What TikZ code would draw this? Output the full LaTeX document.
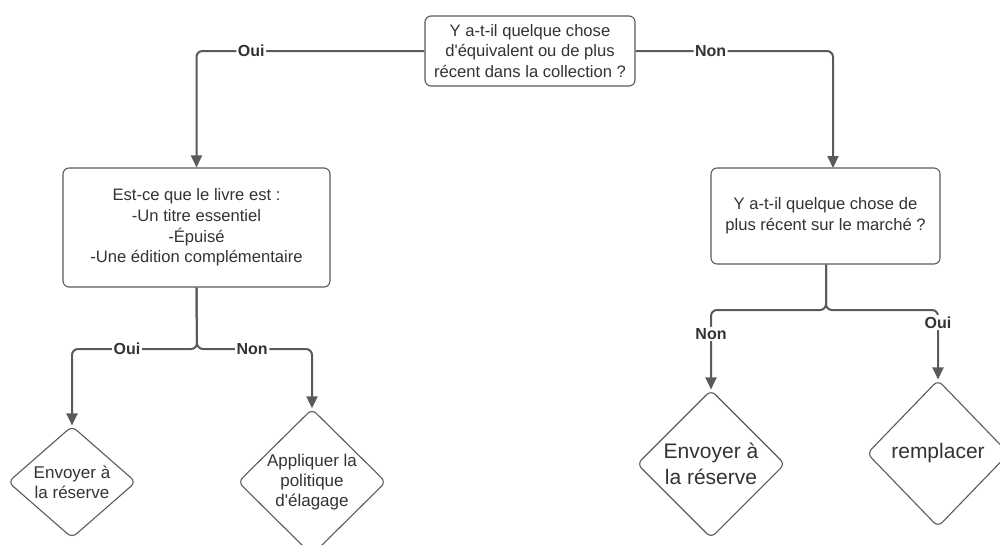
\documentclass[tikz,border=0pt]{standalone}
\usepackage{fontspec}
\setmainfont{Liberation Sans}[Ligatures=TeXOff]
\usetikzlibrary{shapes.geometric,arrows.meta}
\definecolor{linegray}{HTML}{5A5A5A}
\definecolor{txt}{HTML}{333333}
\begin{document}
\begin{tikzpicture}[x=1pt,y=-1pt,
  box/.style={draw=linegray, line width=1.1pt, rounded corners=6pt, fill=white, text=txt,
    align=center, inner sep=0pt, font=\fontsize{16.6}{20.6}\selectfont},
  dia/.style={diamond, draw=linegray, line width=1.1pt, rounded corners=6pt, fill=white, text=txt,
    align=center, inner sep=0pt},
  small/.style={font=\fontsize{17}{20.3}\selectfont},
  big/.style={font=\fontsize{21}{26}\selectfont},
  conn/.style={draw=linegray, line width=2pt, rounded corners=6pt, -{Triangle[length=12pt,width=11pt]}},
  lbl/.style={fill=white, text=txt, font=\bfseries\fontsize{16}{19}\selectfont, inner sep=1.5pt}
]
\useasboundingbox (0,0) rectangle (1000,544);

\node[box, minimum width=210pt, minimum height=70pt] (top) at (530,51)
  {Y a-t-il quelque chose\\d'équivalent ou de plus\\récent dans la collection ?};
\node[box, minimum width=267pt, minimum height=119pt] (leftbox) at (196.5,227.5)
  {Est-ce que le livre est :\\-Un titre essentiel\\-Épuisé\\-Une édition complémentaire};
\node[box, minimum width=229pt, minimum height=96pt] (rightbox) at (825.5,216)
  {Y a-t-il quelque chose de\\plus récent sur le marché ?};

\node[dia, small, minimum width=128pt, minimum height=112pt] (d1) at (72,482)
  {Envoyer à\\la réserve};
\node[dia, small, minimum width=148pt, minimum height=138pt] (d2) at (312,482)
  {Appliquer la\\politique\\d'élagage};
\node[dia, big, minimum width=148pt, minimum height=148pt] (d3) at (711,464)
  {Envoyer à\\la réserve};
\node[dia, big, minimum width=142pt, minimum height=147pt] (d4) at (938,453.5)
  {remplacer};

\coordinate (rin) at (833,168);
\coordinate (j1) at (197,349);
\coordinate (j2) at (826,310);

\draw[conn] (top.west) -| node[pos=0.38, lbl] {Oui} (leftbox.north);
\draw[conn] (top.east) -| node[pos=0.19, lbl] {Non} (rin);

\draw[conn] (leftbox.south) -- (j1) -| node[pos=0.28, lbl] {Oui} (d1.north);
\draw[conn] (leftbox.south) -- (j1) -| node[pos=0.24, lbl] {Non} (d2.north);

\draw[conn] (rightbox.south -| j2) -- (j2) -| node[pos=0.65, lbl] {Non} (d3.north);
\draw[conn] (rightbox.south -| j2) -- (j2) -| node[pos=0.59, lbl] {Oui} (d4.north);
\end{tikzpicture}
\end{document}
